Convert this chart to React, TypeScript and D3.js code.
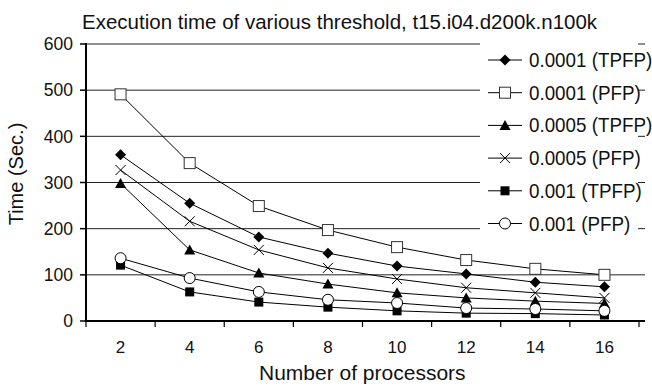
import React from "react";
import * as d3 from "d3";

const categories = ["2", "4", "6", "8", "10", "12", "14", "16"];
const yTicks = [0, 100, 200, 300, 400, 500, 600];
const seriesNames = ["0.0001 (TPFP)", "0.0001 (PFP)", "0.0005 (TPFP)", "0.0005 (PFP)", "0.001 (TPFP)", "0.001 (PFP)"];
const tpfp0001 = [360, 255, 182, 147, 119, 102, 84, 74];
const pfp0001 = [491, 342, 249, 197, 160, 132, 113, 100];
const tpfp0005 = [298, 154, 104, 80, 61, 50, 43, 38];
const pfp0005 = [327, 216, 154, 115, 91, 72, 61, 50];
const tpfp001 = [121, 63, 41, 30, 22, 17, 16, 13];
const pfp001 = [136, 93, 63, 46, 39, 28, 26, 22];
const markerTypes = ["diamond", "openSquare", "triangle", "cross", "square", "circle"];

const seriesValues = [tpfp0001, pfp0001, tpfp0005, pfp0005, tpfp001, pfp001];

const W = 652, H = 387;
const L = 86, R = 639, T = 44, B = 321;

function Marker({ type, x, y }: { type: string; x: number; y: number }) {
  switch (type) {
    case "diamond":
      return <path d={`M${x},${y - 5.5}L${x + 5.5},${y}L${x},${y + 5.5}L${x - 5.5},${y}Z`} fill="#000" />;
    case "openSquare":
      return <rect x={x - 5.5} y={y - 5.5} width={11} height={11} fill="#fff" stroke="#333" strokeWidth={1} />;
    case "triangle":
      return <path d={`M${x},${y - 5.5}L${x + 5.5},${y + 4.5}L${x - 5.5},${y + 4.5}Z`} fill="#000" />;
    case "cross":
      return <path d={`M${x - 5},${y - 5}L${x + 5},${y + 5}M${x - 5},${y + 5}L${x + 5},${y - 5}`} stroke="#000" strokeWidth={1} fill="none" />;
    case "square":
      return <rect x={x - 4.5} y={y - 4.5} width={9} height={9} fill="#000" />;
    case "circle":
      return <circle cx={x} cy={y} r={5.5} fill="#fff" stroke="#000" strokeWidth={1} />;
  }
  return null;
}

export default function App() {
  const x = d3.scaleBand<string>().domain(categories).range([L, R]);
  const y = d3.scaleLinear().domain([0, 600]).range([B, T]);
  const cx = (c: string) => (x(c) as number) + x.bandwidth() / 2;
  const line = d3.line<number>().x((_, i) => cx(categories[i])).y((v) => y(v));
  const font = "Liberation Sans, Arial, sans-serif";
  const legendY0 = 60, legendStep = 32.7;

  return (
    <svg width={W} height={H} style={{ position: "fixed", left: 0, top: 0, background: "#fff" }} fontFamily={font}>
      <rect width={W} height={H} fill="#fff" />
      <text x={82} y={29} fontSize={20.5} fill="#111">
        Execution time of various threshold, t15.i04.d200k.n100k
      </text>
      {yTicks.filter((t) => t > 0).map((t) => (
        <line key={t} x1={L} x2={645} y1={y(t)} y2={y(t)} stroke="#222" strokeWidth={1} />
      ))}
      {yTicks.map((t) => (
        <g key={t}>
          <line x1={80} x2={L} y1={y(t)} y2={y(t)} stroke="#000" strokeWidth={1.5} />
          <text x={73} y={y(t) + 6.3} textAnchor="end" fontSize={17.5} fill="#111">{t}</text>
        </g>
      ))}
      {categories.map((c) => (
        <g key={c}>
          <line x1={(x(c) as number)} x2={(x(c) as number)} y1={B} y2={B + 6} stroke="#000" strokeWidth={1.2} />
          <text x={cx(c)} y={353} textAnchor="middle" fontSize={17} fill="#111">{c}</text>
        </g>
      ))}
      <line x1={R} x2={R} y1={B} y2={B + 6} stroke="#000" strokeWidth={1.2} />
      {seriesValues.map((vals, si) => (
        <g key={si}>
          <path d={line(vals) as string} fill="none" stroke="#000" strokeWidth={1} />
          {vals.map((v, i) => (
            <Marker key={i} type={markerTypes[si]} x={cx(categories[i])} y={y(v)} />
          ))}
        </g>
      ))}
      <line x1={L} x2={L} y1={T - 1} y2={B + 1} stroke="#000" strokeWidth={2} />
      <line x1={L - 1} x2={645} y1={B} y2={B} stroke="#000" strokeWidth={2} />
      <rect x={480} y={42} width={158} height={198} fill="#fff" />
      {seriesNames.map((n, i) => {
        const ly = legendY0 + i * legendStep;
        return (
          <g key={n}>
            <line x1={488} x2={522} y1={ly} y2={ly} stroke="#000" strokeWidth={1} />
            <Marker type={markerTypes[i]} x={505} y={ly} />
            <text transform={`translate(529,${ly + 7}) scale(0.94,1)`} fontSize={20} fill="#111">{n}</text>
          </g>
        );
      })}
      <text transform={`translate(23,174) rotate(-90)`} textAnchor="middle" fontSize={20} fill="#111">
        Time (Sec.)
      </text>
      <text x={259} y={380} fontSize={21} fill="#111">Number of processors</text>
    </svg>
  );
}
